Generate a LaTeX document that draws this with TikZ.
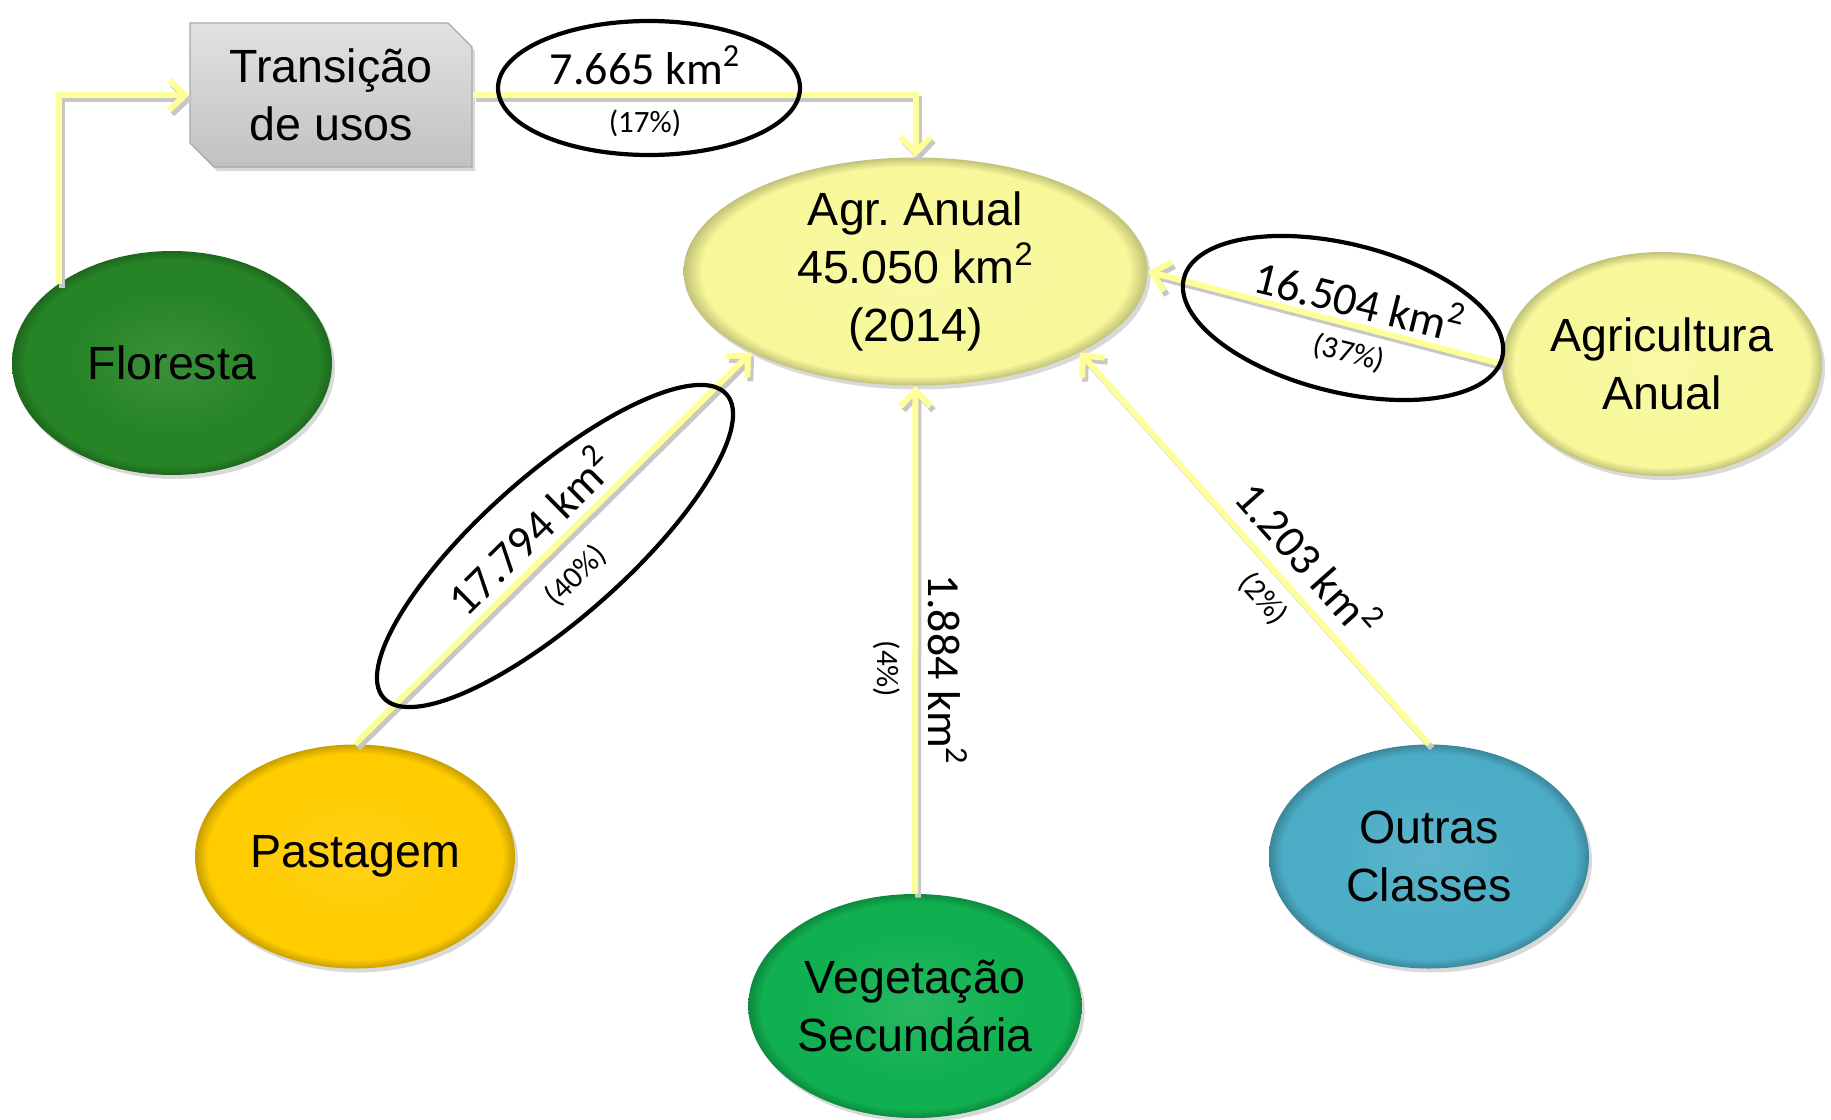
\documentclass[tikz,border=0pt]{standalone}
\usepackage{fontspec}
\setmainfont{Liberation Sans}
\newfontfamily\calib{Carlito}
\usetikzlibrary{shapes.geometric,shapes.misc,arrows.meta,shadows}
\definecolor{flor}{RGB}{38,132,38}
\definecolor{agry}{RGB}{248,248,155}
\definecolor{past}{RGB}{255,204,0}
\definecolor{vege}{RGB}{16,176,80}
\definecolor{outr}{RGB}{75,172,198}
\definecolor{boxg}{RGB}{210,210,210}
\definecolor{connc}{RGB}{255,255,153}
\newcommand\mkrim[1]{\pgfdeclareradialshading{#1rim}{\pgfpoint{0bp}{0bp}}{color(0bp)=(#1!90!white); color(16bp)=(#1); color(23bp)=(#1); color(25bp)=(#1!78!black); color(50bp)=(#1!78!black)}}
\mkrim{flor}\mkrim{agry}\mkrim{past}\mkrim{vege}\mkrim{outr}
\begin{document}
\begin{tikzpicture}[x=0.5pt,y=-0.5pt,
  cls/.style={ellipse, minimum width=160pt, minimum height=112pt, inner sep=0pt,
    font=\fontsize{23.3}{29}\selectfont, align=center, shading=#1rim,
    drop shadow={opacity=0.3, shadow xshift=1.5pt, shadow yshift=-2pt}},
  conn/.style={draw=connc, line width=3pt, -{Straight Barb[length=8pt,width=15pt]},
    preaction={draw=black!22, line width=3pt, -{Straight Barb[length=8pt,width=15pt]},
      transform canvas={shift={(1.5pt,-2pt)}}}},
  lbl/.style={draw=black, line width=2.1pt, ellipse, inner sep=0pt},
  big/.style={font=\calib\fontsize{23}{27}\selectfont, inner sep=0pt},
  small/.style={font=\calib\fontsize{15.5}{18}\selectfont, inner sep=0pt}]
\useasboundingbox (0,0) rectangle (1831,1119);

% class nodes
\node[cls=agry, minimum width=232pt, minimum height=114pt] (agr) at (915.5,271.5) {Agr.\ Anual\\45.050 km\textsuperscript{2}\\(2014)};
\node[cls=flor] (flor) at (172,363) {Floresta};
\node[cls=agry] (agri) at (1662,364) {Agricultura\\Anual};
\node[cls=past] (past) at (355,856.5) {Pastagem};
\node[cls=vege] (vege) at (915,1006) {Vegetação\\Secundária};
\node[cls=outr] (outr) at (1429,856.5) {Outras\\Classes};

\node[chamfered rectangle, chamfered rectangle corners={north east,south west},
  chamfered rectangle xsep=6pt, chamfered rectangle ysep=6pt,
  top color=boxg!65!white, bottom color=boxg!92!black, draw=boxg!80!black, line width=0.6pt,
  minimum width=141pt, minimum height=72pt, inner sep=0pt, align=center,
  font=\fontsize{23.3}{29}\selectfont,
  drop shadow={opacity=0.3, shadow xshift=1.5pt, shadow yshift=-2pt}] (box) at (331,95) {Transição\\de usos};

% connectors
\draw[conn] (flor.north west) |- (box.west);
\draw[conn] (box.east) -| (agr.north);
\draw[conn] (agri.west) -- (agr.east);
\draw[conn] (past.north) -- (agr.south west);
\draw[conn] (vege.north) -- (agr.south);
\draw[conn] (outr.north) -- (agr.south east);

% label ellipses
\node[lbl, minimum width=151pt, minimum height=67pt] (e1) at (649,88) {};
\node[lbl, minimum width=164pt, minimum height=74pt, rotate=-14] (e2) at (1343,318) {};
\node[lbl, minimum width=229pt, minimum height=72pt, rotate=41.5] (e3) at (555,546) {};

% labels
\node[big] (t1) at (645,65) {7.665 km\textsuperscript{2}};
\node[small] (p1) at (645,123) {(17\%)};
\node[big, rotate=-14] (t2) at (1360,299) {16.504 km\textsuperscript{2}};
\node[small, rotate=-14] (p2) at (1349,353) {(37\%)};
\node[big, rotate=44.6] (t3) at (529,530) {17.794 km\textsuperscript{2}};
\node[small, rotate=44.6] (p3) at (576,576) {(40\%)};
\node[big, rotate=-90] (t4) at (948,670) {1.884 km\textsuperscript{2}};
\node[small, rotate=-90] (p4) at (887,669) {(4\%)};
\node[big, rotate=-48.4] (t5) at (1310,558) {1.203 km\textsuperscript{2}};
\node[small, rotate=-48.4] (p5) at (1263,599) {(2\%)};
\end{tikzpicture}
\end{document}
